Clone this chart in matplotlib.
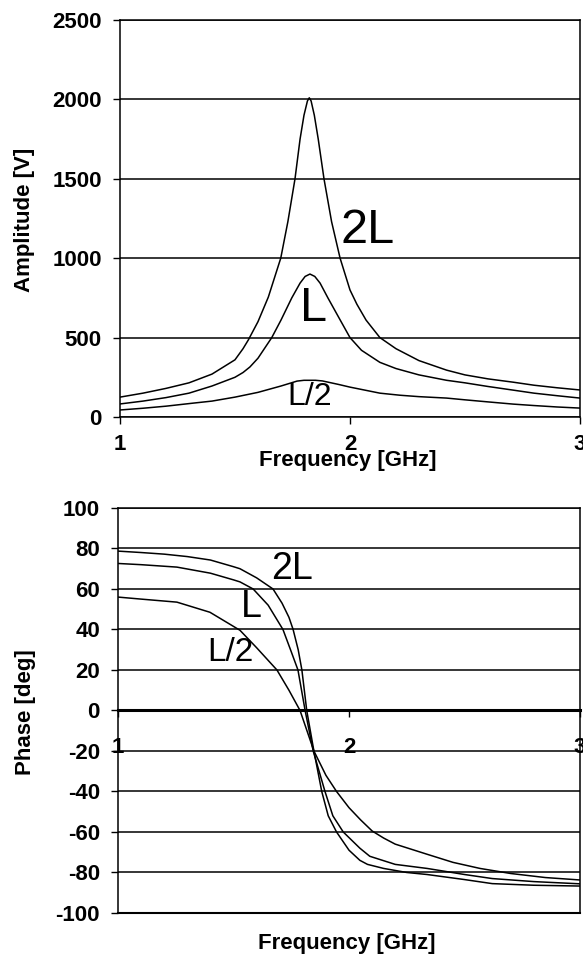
import matplotlib
matplotlib.use("Agg")
import matplotlib.pyplot as plt

plt.rcParams['font.family'] = ['Liberation Sans', 'DejaVu Sans']
plt.rcParams['axes.unicode_minus'] = False

# --- amplitude curves ---
f_2L = [1.0, 1.1, 1.2, 1.3, 1.4, 1.5, 1.535, 1.558, 1.6, 1.645, 1.699, 1.73, 1.761, 1.783,
        1.8, 1.815, 1.823, 1.831, 1.845, 1.862, 1.887, 1.92, 1.957, 2.0, 2.03, 2.07, 2.13,
        2.2, 2.3, 2.42, 2.5, 2.6, 2.71, 2.8, 2.9, 3.0]
amp_2L = [125, 150, 180, 215, 270, 360, 430, 485, 600, 755, 1000, 1230, 1500, 1750,
          1900, 1990, 2010, 1990, 1900, 1750, 1500, 1230, 1000, 800, 710, 610, 500,
          430, 355, 295, 265, 240, 219, 200, 184, 170]

f_L = [1.0, 1.1, 1.2, 1.3, 1.4, 1.5, 1.535, 1.565, 1.6, 1.66, 1.7, 1.747, 1.783, 1.805,
       1.826, 1.847, 1.87, 1.904, 1.95, 2.0, 2.05, 2.13, 2.2, 2.3, 2.42, 2.5, 2.6, 2.71,
       2.8, 2.9, 3.0]
amp_L = [82, 100, 122, 150, 195, 250, 280, 315, 370, 500, 610, 750, 843, 885,
         900, 885, 843, 750, 630, 500, 420, 344, 305, 265, 231, 215, 192, 169,
         150, 134, 119]

f_L2 = [1.0, 1.1, 1.2, 1.317, 1.4, 1.5, 1.6, 1.7, 1.77, 1.8, 1.85, 1.88, 1.95, 2.0,
        2.13, 2.217, 2.3, 2.42, 2.5, 2.6, 2.71, 2.8, 2.9, 3.0]
amp_L2 = [44, 55, 68, 87, 100, 125, 155, 195, 226, 231, 231, 227, 205, 188,
          150, 137, 128, 119, 108, 95, 81, 72, 63, 56]

# --- phase curves ---
pf_2L = [1.0, 1.1, 1.2, 1.3, 1.4, 1.5, 1.528, 1.6, 1.671, 1.71, 1.74, 1.758, 1.78, 1.796,
         1.817, 1.848, 1.882, 1.91, 1.946, 2.0, 2.047, 2.08, 2.15, 2.25, 2.338, 2.5,
         2.62, 2.8, 3.0]
ph_2L = [78.7, 78, 77.2, 76, 74.3, 71, 70, 65.5, 60, 53, 46, 40, 30, 20,
         0, -20, -40, -52, -60, -69, -74, -76, -78, -80, -81, -83.5,
         -85.5, -86.3, -86.7]

pf_L = [1.0, 1.1, 1.255, 1.4, 1.5, 1.528, 1.585, 1.65, 1.714, 1.75, 1.779, 1.81, 1.845,
        1.896, 1.93, 1.975, 2.047, 2.09, 2.2, 2.338, 2.5, 2.62, 2.8, 3.0]
ph_L = [72.6, 72, 70.8, 67.8, 64.5, 63.5, 60, 52, 40, 29, 20, 0, -20,
        -40, -52, -60, -68, -72, -76, -78, -81, -83, -84.5, -85.6]

pf_L2 = [1.0, 1.1, 1.255, 1.398, 1.528, 1.6, 1.688, 1.74, 1.788, 1.848, 1.9, 1.946,
         2.0, 2.05, 2.1, 2.15, 2.2, 2.338, 2.45, 2.567, 2.7, 2.85, 3.0]
ph_L2 = [56, 55, 53.5, 48.5, 39.6, 31, 20, 10, 0, -20, -32, -40,
         -48, -54, -59.5, -63, -66, -71, -75, -78, -80.5, -82.5, -83.7]

amp_ticks = [0, 500, 1000, 1500, 2000, 2500]
phase_ticks = [-100, -80, -60, -40, -20, 0, 20, 40, 60, 80, 100]
freq_ticks = [1, 2, 3]

fig = plt.figure(figsize=(5.83, 9.65), dpi=100)
ax1 = fig.add_axes([0.2058, 0.5679, 0.7890, 0.4114])
ax2 = fig.add_axes([0.2024, 0.0539, 0.7925, 0.4197])

lw = 1.1
bold = dict(fontsize=16, fontweight='bold')

# --- top: amplitude ---
for f, a in [(f_2L, amp_2L), (f_L, amp_L), (f_L2, amp_L2)]:
    ax1.plot(f, a, color='black', lw=lw)
ax1.set_xlim(1, 3)
ax1.set_ylim(0, 2500)
ax1.set_yticks(amp_ticks)
ax1.set_xticks(freq_ticks)
ax1.grid(axis='y', color='black', lw=1.1)
ax1.set_axisbelow(True)
ax1.tick_params(axis='both', direction='out', length=5, width=1, colors='black')
ax1.tick_params(axis='y', pad=8)
ax1.tick_params(axis='x', pad=7)
for lab in ax1.get_xticklabels() + ax1.get_yticklabels():
    lab.set_fontsize(16)
    lab.set_fontweight('bold')
for s in ax1.spines.values():
    s.set_linewidth(1.1)
ax1.set_xlabel('Frequency [GHz]', **bold)
ax1.set_ylabel('Amplitude [V]', **bold)
ax1.xaxis.set_label_coords(0.496, -0.082)
ax1.yaxis.set_label_coords(-0.185, 0.496)

ax1.text(2.078, 1175, '2L', fontsize=35, ha='center', va='center')
ax1.text(1.843, 681, 'L', fontsize=35, ha='center', va='center')
ax1.text(1.826, 125, 'L/2', fontsize=23, ha='center', va='center')

# --- bottom: phase ---
for f, p in [(pf_2L, ph_2L), (pf_L, ph_L), (pf_L2, ph_L2)]:
    ax2.plot(f, p, color='black', lw=lw)
ax2.set_xlim(1, 3)
ax2.set_ylim(-100, 100)
ax2.set_yticks(phase_ticks)
ax2.set_xticks(freq_ticks)
ax2.grid(axis='y', color='black', lw=1.1)
ax2.set_axisbelow(True)
ax2.spines['bottom'].set_position(('data', 0))
ax2.spines['bottom'].set_linewidth(2.2)
ax2.axhline(-100, color='black', lw=1.5, clip_on=False)
ax2.tick_params(axis='both', direction='out', length=5, width=1, colors='black')
ax2.tick_params(axis='y', pad=8)
ax2.tick_params(axis='x', pad=14)
for lab in ax2.get_xticklabels() + ax2.get_yticklabels():
    lab.set_fontsize(16)
    lab.set_fontweight('bold')
for k in ['left', 'right', 'top']:
    ax2.spines[k].set_linewidth(1.1)
ax2.set_xlabel('Frequency [GHz]', **bold)
ax2.set_ylabel('Phase [deg]', **bold)
ax2.xaxis.set_label_coords(0.496, -0.049)
ax2.yaxis.set_label_coords(-0.177, 0.496)

ax2.text(1.753, 70, '2L', fontsize=27, ha='center', va='center')
ax2.text(1.576, 51, 'L', fontsize=27, ha='center', va='center')
ax2.text(1.485, 28.7, 'L/2', fontsize=24, ha='center', va='center')

fig.savefig('out.png', dpi=100)
